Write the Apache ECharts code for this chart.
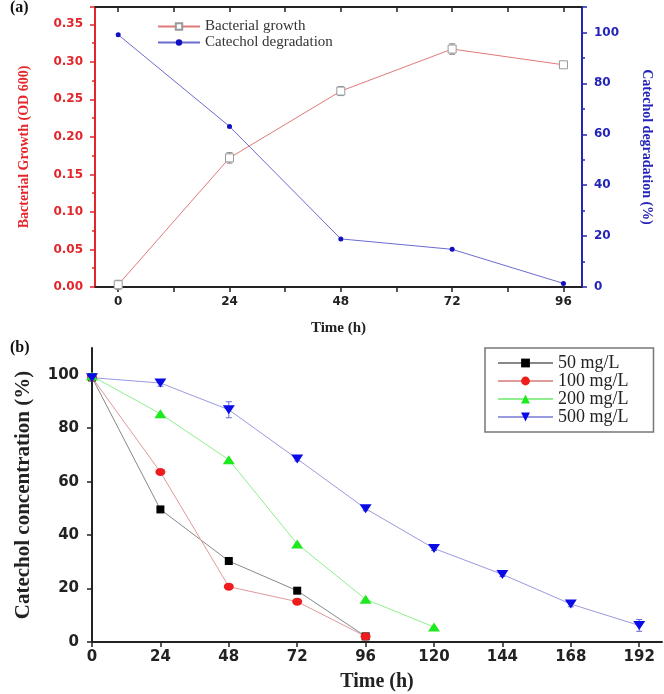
<!DOCTYPE html>
<html>
<head>
<meta charset="utf-8">
<script src="https://cdn.jsdelivr.net/npm/echarts@6/dist/echarts.min.js"></script>
<style>
html, body { margin: 0; padding: 0; background: #fff; }
#main { width: 664px; height: 694px; }
</style>
</head>
<body>
<div id="main"></div>
<script>
// (a) growth vs degradation
var timeA = [0, 24, 48, 72, 96];
var growth = [0.003, 0.172, 0.261, 0.317, 0.296];
var growthErr = [0.006, 0.007, 0.006, 0.007, 0.003];
var degradation = [99.1, 63.1, 18.9, 14.8, 1.4];
var ticksA = [0, 12, 24, 36, 48, 60, 72, 84, 96];
var labelsA = [0, 24, 48, 72, 96];

// (b) catechol concentration per initial load
var timeB = [0, 24, 48, 72, 96, 120, 144, 168, 192];
var c50 = [99, 49.6, 30.3, 19.2, 2.1];
var c100 = [99, 63.6, 20.7, 15.1, 2.1];
var c200 = [99.5, 85.4, 68.2, 36.7, 16.0, 5.6];
var c500 = [98.9, 96.9, 86.9, 68.5, 49.9, 35.0, 25.3, 14.2, 6.2];
var c500Err = [0.5, 1.2, 3, 0.8, 0.8, 0.8, 0.8, 1, 2.2];
var ticksBY = [0, 20, 40, 60, 80, 100];

var SERIF = 'Liberation Serif';
var SANS = 'DejaVu Sans';

function pairs(xs, ys) {
	var out = [];
	for (var i = 0; i < ys.length; i++) out.push([xs[i], ys[i]]);
	return out;
}

function errBars(xi, yi, xs, ys, errs, color) {
	var d = [];
	for (var i = 0; i < ys.length; i++) d.push([xs[i], ys[i] - errs[i], ys[i] + errs[i]]);
	return {
		type: 'custom', xAxisIndex: xi, yAxisIndex: yi, silent: true, z: 1,
		encode: { x: 0, y: [1, 2] },
		data: d,
		renderItem: function(params, api) {
			var lo = api.coord([api.value(0), api.value(1)]);
			var hi = api.coord([api.value(0), api.value(2)]);
			var w = 3, st = { stroke: color, lineWidth: 1 };
			return { type: 'group', children: [
				{ type: 'line', shape: { x1: lo[0], y1: lo[1], x2: hi[0], y2: hi[1] }, style: st },
				{ type: 'line', shape: { x1: lo[0] - w, y1: lo[1], x2: lo[0] + w, y2: lo[1] }, style: st },
				{ type: 'line', shape: { x1: hi[0] - w, y1: hi[1], x2: hi[0] + w, y2: hi[1] }, style: st }
			]};
		}
	};
}

var black = '#222';
var red = '#e3262b';
var blue = '#2424b8';

var myChart = echarts.init(document.getElementById('main'));
var option = {
	animation: false,
	backgroundColor: '#fff',
	graphic: [
		{ type: 'text', left: 10, top: 0, style: { text: '(a)', font: 'bold 16px ' + SERIF, fill: '#111' } },
		{ type: 'text', left: 10, top: 340, style: { text: '(b)', font: 'bold 16px ' + SERIF, fill: '#111' } }
	],
	grid: [
		{ left: 95, right: 82, top: 7, height: 280 },
		{ left: 92, right: 2, top: 348, height: 294 }
	],
	legend: [
		{
			left: 152, top: 14, orient: 'vertical', itemWidth: 42, itemHeight: 8, itemGap: 1,
			textStyle: { fontFamily: SERIF, fontSize: 15, color: '#333' },
			data: ['Bacterial growth', 'Catechol degradation']
		},
		{
			left: 485, top: 348, orient: 'vertical', itemWidth: 55, itemHeight: 11, itemGap: 0,
			padding: [6, 25, 6, 12], borderColor: '#777', borderWidth: 1.5,
			textStyle: { fontFamily: SERIF, fontSize: 18, lineHeight: 17, color: '#222' },
			data: ['50 mg/L', '100 mg/L', '200 mg/L', '500 mg/L']
		}
	],
	xAxis: [
		{
			gridIndex: 0, type: 'value', min: -5, max: 100,
			name: 'Time (h)', nameLocation: 'middle', nameGap: 34,
			nameTextStyle: { fontFamily: SERIF, fontWeight: 'bold', fontSize: 15, color: '#222' },
			axisLine: { onZero: false, lineStyle: { color: black, width: 2 } },
			axisTick: { customValues: ticksA, length: 5, lineStyle: { color: black, width: 1.5 } },
			axisLabel: { customValues: labelsA, fontFamily: SANS, fontWeight: 'bold', fontSize: 12, color: '#222', margin: 9 },
			splitLine: { show: false }
		},
		{
			gridIndex: 0, type: 'value', position: 'top', min: -5, max: 100,
			axisLine: { onZero: false, lineStyle: { color: black, width: 2 } },
			axisTick: { customValues: ticksA, inside: true, length: 5, lineStyle: { color: black, width: 1.5 } },
			axisLabel: { show: false },
			splitLine: { show: false }
		},
		{
			gridIndex: 1, type: 'value', min: 0, max: 200,
			name: 'Time (h)', nameLocation: 'middle', nameGap: 30,
			nameTextStyle: { fontFamily: SERIF, fontWeight: 'bold', fontSize: 20, color: '#222' },
			axisLine: { onZero: false, lineStyle: { color: black, width: 2 } },
			axisTick: { customValues: timeB, length: 5, lineStyle: { color: black, width: 1.5 } },
			axisLabel: { customValues: timeB, fontFamily: SANS, fontWeight: 'bold', fontSize: 15, color: '#222', margin: 8 },
			splitLine: { show: false }
		}
	],
	yAxis: [
		{
			gridIndex: 0, type: 'value', min: 0, max: 0.373, interval: 0.05,
			name: 'Bacterial Growth (OD 600)', nameLocation: 'middle', nameGap: 64,
			nameTextStyle: { fontFamily: SERIF, fontWeight: 'bold', fontSize: 14, color: red },
			axisLine: { onZero: false, lineStyle: { color: red, width: 2 } },
			axisTick: { length: 5, lineStyle: { color: red, width: 1.5 } },
			minorTick: { show: true, splitNumber: 2, length: 3, lineStyle: { color: red, width: 1.5 } },
			axisLabel: {
				fontFamily: SANS, fontWeight: 'bold', fontSize: 12, color: red, margin: 12,
				formatter: function(v) { return v > 0.351 ? '' : v.toFixed(2); }
			},
			splitLine: { show: false }
		},
		{
			gridIndex: 0, type: 'value', position: 'right', min: 0, max: 110, interval: 20,
			name: 'Catechol degradation (%)', nameLocation: 'middle', nameGap: 58, nameRotate: -90,
			nameTextStyle: { fontFamily: SERIF, fontWeight: 'bold', fontSize: 14, color: blue },
			axisLine: { onZero: false, lineStyle: { color: blue, width: 2 } },
			axisTick: { length: 5, lineStyle: { color: blue, width: 1.5 } },
			minorTick: { show: true, splitNumber: 2, length: 3, lineStyle: { color: blue, width: 1.5 } },
			axisLabel: {
				fontFamily: SANS, fontWeight: 'bold', fontSize: 12, color: blue, margin: 12,
				formatter: function(v) { return v > 100 ? '' : v; }
			},
			splitLine: { show: false }
		},
		{
			gridIndex: 1, type: 'value', min: 0, max: 110,
			name: 'Catechol concentration (%)', nameLocation: 'middle', nameGap: 58,
			nameTextStyle: { fontFamily: SERIF, fontWeight: 'bold', fontSize: 21, color: '#222' },
			axisLine: { onZero: false, lineStyle: { color: black, width: 2 } },
			axisTick: { customValues: ticksBY, length: 5, lineStyle: { color: black, width: 1.5 } },
			axisLabel: { customValues: ticksBY, fontFamily: SANS, fontWeight: 'bold', fontSize: 15, color: '#222', margin: 13 },
			splitLine: { show: false }
		}
	],
	series: [
		errBars(0, 0, timeA, growth, growthErr, '#888'),
		{
			name: 'Bacterial growth', type: 'line', xAxisIndex: 0, yAxisIndex: 0,
			data: pairs(timeA, growth),
			symbol: 'rect', symbolSize: 8,
			itemStyle: { color: '#fff', borderColor: '#999', borderWidth: 1 },
			lineStyle: { color: '#e07a7a', width: 1 }
		},
		{
			name: 'Catechol degradation', type: 'line', xAxisIndex: 0, yAxisIndex: 1,
			data: pairs(timeA, degradation),
			symbol: 'circle', symbolSize: 5,
			itemStyle: { color: '#1010c0' },
			lineStyle: { color: '#6b6bd0', width: 1 }
		},
		{
			name: '50 mg/L', type: 'line', xAxisIndex: 2, yAxisIndex: 2,
			data: pairs(timeB, c50),
			symbol: 'rect', symbolSize: 8,
			itemStyle: { color: '#000' },
			lineStyle: { color: '#888', width: 1 }
		},
		{
			name: '100 mg/L', type: 'line', xAxisIndex: 2, yAxisIndex: 2,
			data: pairs(timeB, c100),
			symbol: 'circle', symbolSize: [10, 8],
			itemStyle: { color: '#ee1c1c' },
			lineStyle: { color: '#e09a9a', width: 1 }
		},
		{
			name: '200 mg/L', type: 'line', xAxisIndex: 2, yAxisIndex: 2,
			data: pairs(timeB, c200),
			symbol: 'triangle', symbolSize: [12, 9],
			itemStyle: { color: '#1ee81e' },
			lineStyle: { color: '#8fef8f', width: 1 }
		},
		errBars(2, 2, timeB, c500, c500Err, '#6a6ad8'),
		{
			name: '500 mg/L', type: 'line', xAxisIndex: 2, yAxisIndex: 2,
			data: pairs(timeB, c500),
			symbol: 'triangle', symbolRotate: 180, symbolSize: [12, 9],
			itemStyle: { color: '#0a0ae6' },
			lineStyle: { color: '#9a9ae0', width: 1 }
		}
	]
};
myChart.setOption(option);
</script>
</body>
</html>
